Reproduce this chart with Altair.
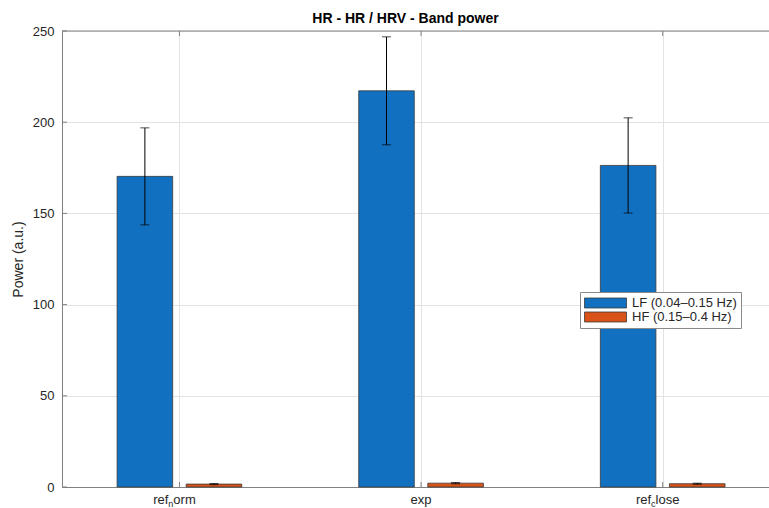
import altair as alt
import pandas as pd

# ---------------- data ----------------
CATEGORIES = ["ref_norm", "exp", "ref_close"]
BANDS = ["LF (0.04–0.15 Hz)", "HF (0.15–0.4 Hz)"]
LF_MEAN = [170.3, 217.2, 176.3]
LF_ERR = [26.6, 29.6, 26.1]
HF_MEAN = [1.6, 2.1, 1.8]
HF_ERR = [0.3, 0.35, 0.3]
Y_TICKS = [0, 50, 100, 150, 200, 250]
TITLE = "HR - HR / HRV - Band power"
Y_TITLE = "Power (a.u.)"

# ---------------- style / layout ----------------
COLORS = ["#1170c0", "#d95319"]
FONT = "Liberation Sans"
TXT = "#262626"
AX = "#808080"
GRID = "#e3e3e3"
EDGE = "#3a3a3a"
W, H = 707, 456
PAD_L, PAD_T = 62, 31
X_MIN, X_MAX = 0.514, 3.44
PPU = W / (X_MAX - X_MIN)
BAR_W = 0.23
GROUP_OFF = 0.143
LABEL_SIZE = 13
SUB_SIZE = 9
SUB_SHIFT = -5

xs = alt.Scale(domain=[X_MIN, X_MAX], nice=False, zero=False)
ys = alt.Scale(domain=[0, 250], nice=False)

X_AXIS = alt.Axis(values=[1, 2, 3], labels=False, ticks=False, grid=True,
                  gridColor=GRID, domainColor=AX, domainWidth=1, title=None)
Y_AXIS = alt.Axis(values=Y_TICKS, ticks=False, grid=True, gridColor=GRID,
                  domainColor=AX, domainWidth=1, labelFont=FONT, labelFontSize=13,
                  labelColor=TXT, labelPadding=8, title=Y_TITLE,
                  titleFont=FONT, titleFontSize=14, titleFontWeight="normal",
                  titleColor=TXT, titleX=-44, titleY=H / 2,
                  titleAlign="center", titleBaseline="middle")


def X(field):
    return alt.X(field, scale=xs, axis=X_AXIS, title=None)


def Y(field):
    return alt.Y(field, scale=ys, axis=Y_AXIS, title=Y_TITLE)


rows = []
for i, cat in enumerate(CATEGORIES):
    for j, band in enumerate(BANDS):
        m = LF_MEAN[i] if j == 0 else HF_MEAN[i]
        e = LF_ERR[i] if j == 0 else HF_ERR[i]
        rows.append(dict(pos=i + 1, side=(-1 if j == 0 else 1), band=band,
                         mean=m, err=e))
df = pd.DataFrame(rows)

base = alt.Chart(df).transform_calculate(
    xc=f"datum.pos + datum.side * {GROUP_OFF}",
).transform_calculate(
    x1=f"datum.xc - {BAR_W / 2}",
    x2=f"datum.xc + {BAR_W / 2}",
    lo="datum.mean - datum.err",
    hi="datum.mean + datum.err",
    zero="0",
)

legend = alt.Legend(
    title=None, orient="none", legendX=518, legendY=261,
    symbolType="M-1,-0.238H1V0.238H-1Z", symbolSize=1764,
    symbolStrokeColor=EDGE, symbolStrokeWidth=0.8, symbolOpacity=1,
    clipHeight=14, rowPadding=0, labelOffset=5,
    labelFont=FONT, labelFontSize=13, labelColor=TXT,
    padding=4, strokeColor="#8a8a8a", fillColor="white",
)

bars = base.mark_rect(stroke=EDGE, strokeWidth=0.8).encode(
    x=X("x1:Q"), x2="x2:Q",
    y=Y("mean:Q"), y2="zero:Q",
    fill=alt.Fill("band:N", scale=alt.Scale(domain=BANDS, range=COLORS), legend=legend),
)

err_rule = base.mark_rule(color="black", strokeWidth=1).encode(
    x=X("xc:Q"), y=Y("lo:Q"), y2="hi:Q")
cap_hi = base.mark_tick(orient="horizontal", size=9, thickness=1, color="black").encode(
    x=X("xc:Q"), y=Y("hi:Q"))
cap_lo = base.mark_tick(orient="horizontal", size=9, thickness=1, color="black").encode(
    x=X("xc:Q"), y=Y("lo:Q"))

# inner tick marks (MATLAB style)
ytick_df = pd.DataFrame({"v": Y_TICKS})
xtick_df = pd.DataFrame({"p": [1, 2, 3]})
yticks = alt.Chart(ytick_df).mark_rule(color=AX).encode(
    y=Y("v:Q"), x=alt.value(0), x2=alt.value(5))
xticks_b = alt.Chart(xtick_df).mark_rule(color=AX).encode(
    x=X("p:Q"), y=alt.value(H), y2=alt.value(H - 5))
xticks_t = alt.Chart(xtick_df).mark_rule(color=AX).encode(
    x=X("p:Q"), y=alt.value(0), y2=alt.value(5))
top_border = alt.Chart(pd.DataFrame({"a": [0]})).mark_rule(color=AX).encode(
    x=alt.value(0), x2=alt.value(W), y=alt.value(0))

# x tick labels with TeX-like subscripts
CHAR_W = {"r": .333, "e": .556, "f": .278, "n": .556, "o": .556, "m": .833,
          "c": .5, "l": .222, "s": .5, "x": .5, "p": .556}


def text_width(s, size):
    return sum(CHAR_W.get(ch, .556) for ch in s) * size


seg = []
for i, lab in enumerate(CATEGORIES):
    pos = i + 1
    if "_" in lab:
        pre, post = lab.split("_", 1)
        sub, rest = post[0], post[1:]
        shift = SUB_SHIFT
    else:
        pre, sub, rest, shift = lab, "", "", 0
    wp, ws, wr = text_width(pre, LABEL_SIZE), text_width(sub, SUB_SIZE), text_width(rest, LABEL_SIZE)
    start = -(wp + ws + wr) / 2 + shift
    seg.append(dict(x=pos + start / PPU, t=pre, kind="main"))
    if sub:
        seg.append(dict(x=pos + (start + wp) / PPU, t=sub, kind="sub"))
    if rest:
        seg.append(dict(x=pos + (start + wp + ws) / PPU, t=rest, kind="main"))
seg_df = pd.DataFrame(seg)

lab_main = alt.Chart(seg_df).transform_filter("datum.kind == 'main'").mark_text(
    align="left", baseline="alphabetic", font=FONT, fontSize=LABEL_SIZE, color=TXT
).encode(x=X("x:Q"), y=alt.value(H + 17), text="t:N")
lab_sub = alt.Chart(seg_df).transform_filter("datum.kind == 'sub'").mark_text(
    align="left", baseline="alphabetic", font=FONT, fontSize=SUB_SIZE, color=TXT
).encode(x=X("x:Q"), y=alt.value(H + 20), text="t:N")

chart = alt.layer(
    bars, err_rule, cap_hi, cap_lo, yticks, xticks_b, xticks_t, top_border, lab_main, lab_sub
).properties(
    width=W, height=H,
    title=alt.TitleParams(TITLE, font=FONT, fontSize=14, fontWeight="bold", color="black",
                          anchor="middle", dx=-10, dy=19, offset=7, baseline="alphabetic"),
    autosize=alt.AutoSizeParams(type="none"),
    padding={"left": PAD_L, "top": PAD_T, "right": 0, "bottom": 508 - PAD_T - H},
).configure_view(stroke=None).configure(background="white")

chart.save("out.html", embed_options={"renderer": "svg", "actions": False})
